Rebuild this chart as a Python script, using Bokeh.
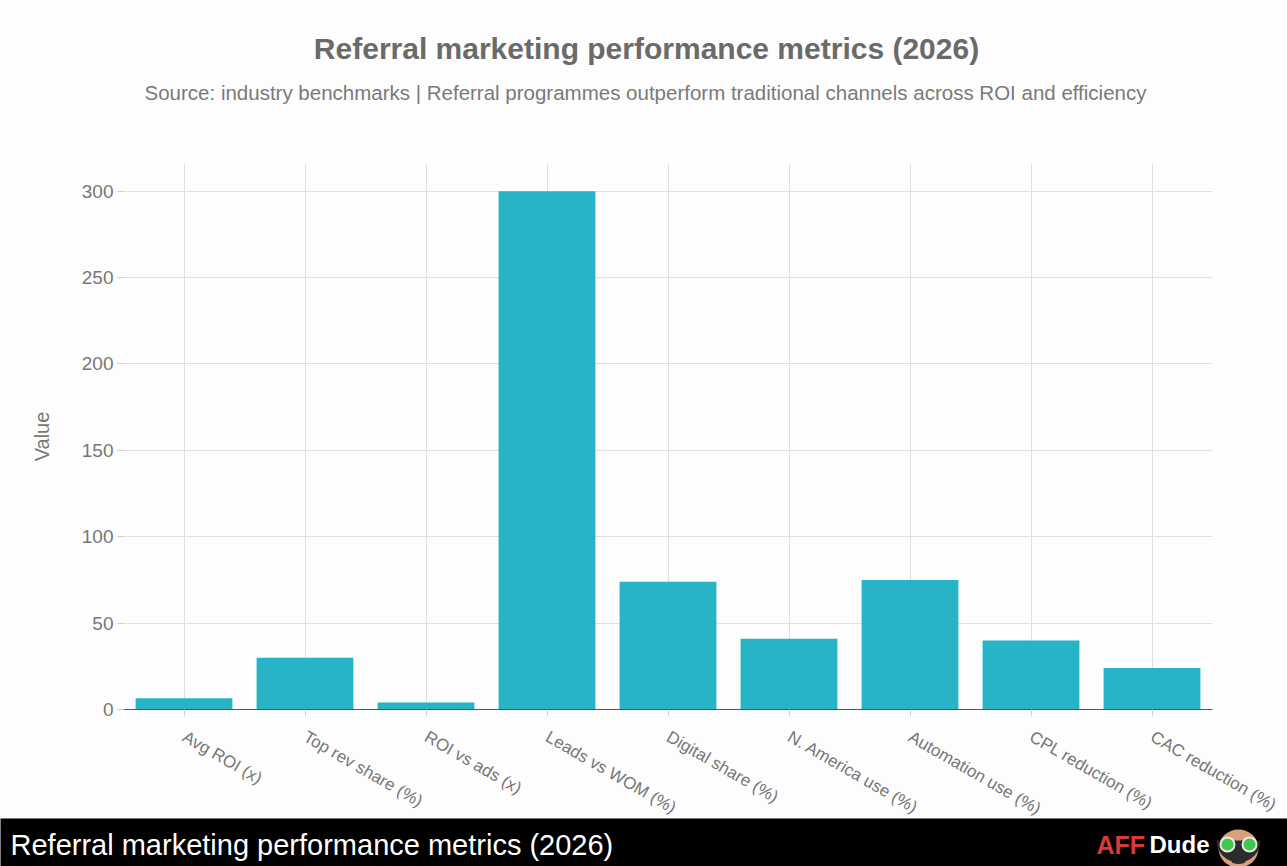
from bokeh.plotting import figure
from bokeh.layouts import column
from bokeh.models import Range1d, FactorRange, FixedTicker
from bokeh.core.properties import value
from bokeh.embed import file_html
from bokeh.resources import INLINE
import math

# ---- data ----
categories = ["Avg ROI (x)", "Top rev share (%)", "ROI vs ads (x)", "Leads vs WOM (%)",
              "Digital share (%)", "N. America use (%)", "Automation use (%)",
              "CPL reduction (%)", "CAC reduction (%)"]
values = [6.5, 30, 4, 300, 74, 41, 75, 40, 24]
y_ticks = [0, 50, 100, 150, 200, 250, 300]

title_text = "Referral marketing performance metrics (2026)"
subtitle_text = "Source: industry benchmarks | Referral programmes outperform traditional channels across ROI and efficiency"
banner_text = "Referral marketing performance metrics (2026)"

FONT = "Liberation Sans"
BG = "#fdfdfd"
BAR = "#27b4c6"
W = 1287

# ---- header ----
hdr = figure(width=W, height=130, x_range=Range1d(0, W), y_range=Range1d(130, 0),
             output_backend="svg", toolbar_location=None, min_border=0)
hdr.frame_align = False
hdr.axis.visible = False
hdr.grid.visible = False
hdr.outline_line_color = None
hdr.background_fill_color = BG
hdr.border_fill_color = BG
hdr.text(x=[646], y=[48], text=[title_text], text_align="center", text_baseline="middle",
         text_font=value(FONT), text_font_size="30px", text_font_style="bold", text_color="#6a6a6a")
hdr.text(x=[645], y=[92], text=[subtitle_text], text_align="center", text_baseline="middle",
         text_font=value(FONT), text_font_size="20.5px", text_color="#7a7a7a")

# ---- main chart ----
p = figure(width=W, height=700, x_range=FactorRange(*categories), y_range=Range1d(0, 316),
           output_backend="svg", toolbar_location=None,
           min_border_left=123, min_border_right=75, min_border_top=33, min_border_bottom=121)
p.frame_align = False
p.background_fill_color = BG
p.border_fill_color = BG
p.outline_line_color = None
p.vbar(x=categories, top=values, width=0.8, fill_color=BAR, line_color=None)

p.xgrid.grid_line_color = "#e0e0e0"
p.ygrid.grid_line_color = "#e0e0e0"
p.yaxis.ticker = FixedTicker(ticks=y_ticks)

p.yaxis.axis_line_color = None
p.yaxis.major_tick_out = 6
p.yaxis.major_tick_in = 0
p.yaxis.minor_tick_line_color = None
p.yaxis.major_tick_line_color = "#cccccc"
p.yaxis.major_label_text_font = FONT
p.yaxis.major_label_text_font_size = "19px"
p.yaxis.major_label_text_color = "#777777"
p.yaxis.major_label_standoff = 4
p.yaxis.axis_label = "Value"
p.yaxis.axis_label_text_font = FONT
p.yaxis.axis_label_text_font_size = "20px"
p.yaxis.axis_label_text_font_style = "normal"
p.yaxis.axis_label_text_color = "#777777"
p.yaxis.axis_label_standoff = 26

p.xaxis.axis_line_color = "#555555"
p.xaxis.axis_line_width = 1
p.xaxis.major_tick_out = 6
p.xaxis.major_tick_in = 0
p.xaxis.major_tick_line_color = "#cccccc"
p.xaxis.major_label_text_font = FONT
p.xaxis.major_label_text_font_size = "17px"
p.xaxis.major_label_text_color = "#777777"
p.xaxis.major_label_orientation = -math.radians(30)
p.xaxis.major_label_standoff = 20

# ---- banner ----
ban = figure(width=W, height=48, x_range=Range1d(0, W), y_range=Range1d(48, 0),
             output_backend="svg", toolbar_location=None, min_border=0)
ban.frame_align = False
ban.styles = {"margin-top": "-12px"}
ban.axis.visible = False
ban.grid.visible = False
ban.outline_line_color = None
ban.background_fill_color = "#000000"
ban.border_fill_color = "#000000"
ban.text(x=[10], y=[26], text=[banner_text], text_align="left", text_baseline="middle",
         text_font=value(FONT), text_font_size="29px", text_color="#ffffff")
ban.text(x=[1096], y=[26], text=["AFF"], text_align="left", text_baseline="middle",
         text_font=value(FONT), text_font_size="25px", text_font_style="bold", text_color="#d83a3a")
ban.text(x=[1149], y=[26], text=["Dude"], text_align="left", text_baseline="middle",
         text_font=value(FONT), text_font_size="24px", text_font_style="bold", text_color="#ffffff")
# simple mascot face
ban.ellipse(x=[1238], y=[30], width=[40], height=[38], fill_color="#d9a07c", line_color=None)
ban.wedge(x=[1238], y=[22], radius=22, start_angle=math.pi, end_angle=0, direction="anticlock",
          fill_color="#2b2b2b", line_color=None)
ban.circle(x=[1227, 1249], y=[26, 26], radius=7, fill_color="#3ec94a", line_color="#e8e8e8", line_width=2)
ban.ellipse(x=[1238], y=[43], width=[14], height=[5], fill_color="#2b2b2b", line_color=None)

layout = column(hdr, p, ban, spacing=0)
open("out.html", "w").write(file_html(layout, INLINE))
